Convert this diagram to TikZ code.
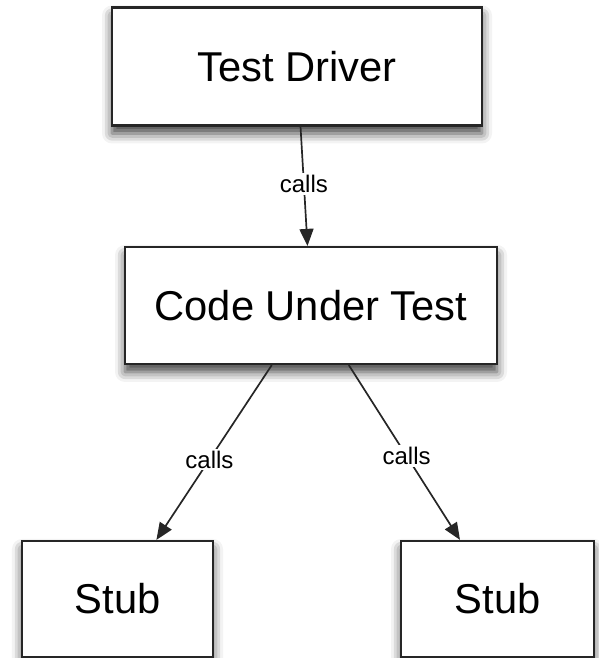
\documentclass[tikz,border=0pt]{standalone}
\usepackage{fontspec}
\setmainfont{Liberation Sans}
\usetikzlibrary{arrows.meta,shadows.blur}

\begin{document}
\begin{tikzpicture}[x=1pt,y=1pt,
  box/.style={draw=black!85, line width=2.2pt, fill=white, inner sep=0pt,
    font=\fontsize{41.7}{48}\selectfont,
    blur shadow={shadow xshift=0pt, shadow yshift=-8pt,
      shadow blur radius=10pt, shadow opacity=75}},
  conn/.style={draw=black!85, line width=1.7pt,
    -{Triangle[length=17pt,width=14pt]}},
  lab/.style={fill=white, inner sep=2pt, text=black,
    font=\fontsize{24}{28}\selectfont}
]
\useasboundingbox (0,0) rectangle (598,658);

\node[box, minimum width=370pt, minimum height=118pt] (td)   at (297,591.5) {Test Driver};
\node[box, minimum width=372pt, minimum height=117pt] (cut)  at (311,352.5) {Code Under Test};
\node[box, minimum width=191pt, minimum height=116pt] (stubl) at (117.5,59) {Stub};
\node[box, minimum width=193pt, minimum height=116pt] (stubr) at (497.5,59) {Stub};

\draw[conn] (td) -- node[lab, pos=0.48] {calls} (cut);
\draw[conn] (cut) -- node[lab, pos=0.54] {calls} (stubl);
\draw[conn] (cut) -- node[lab, pos=0.52] {calls} (stubr);
\end{tikzpicture}
\end{document}
